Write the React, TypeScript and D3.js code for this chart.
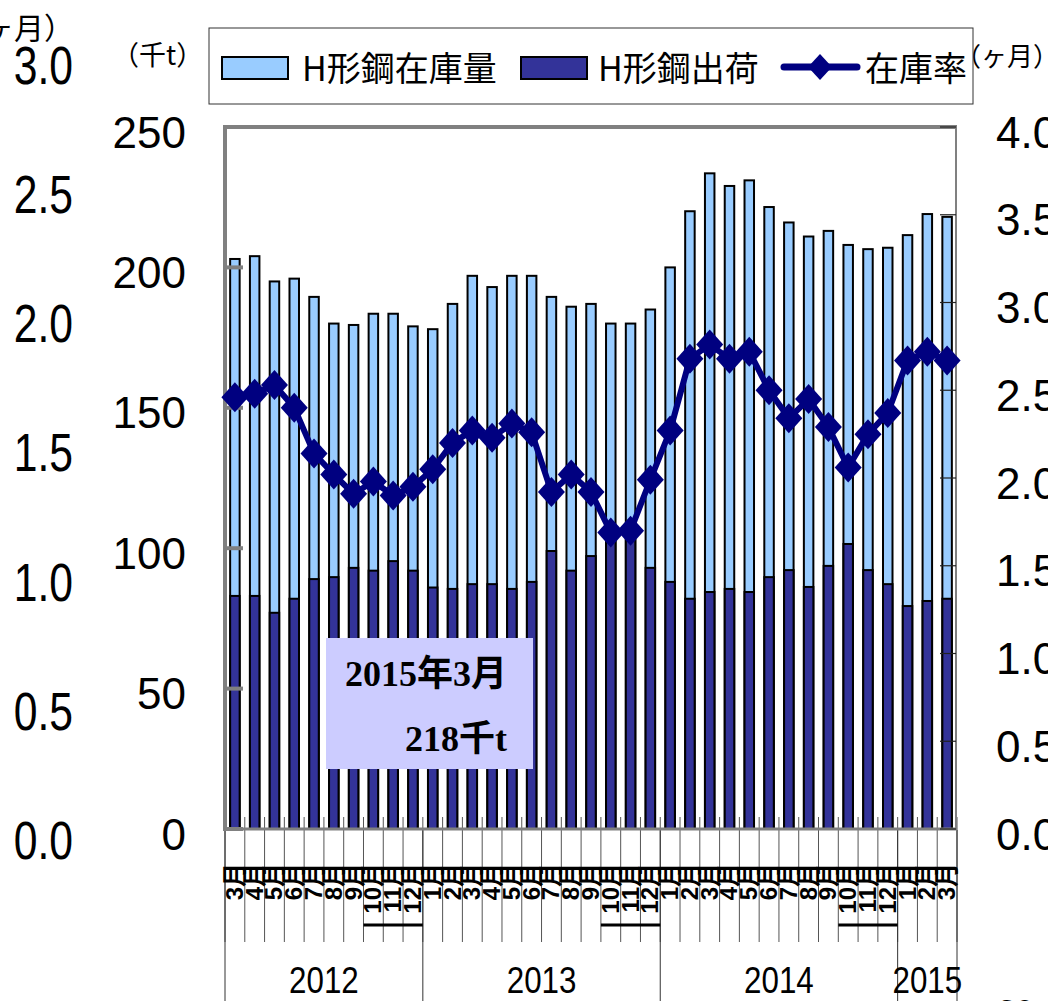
import React from 'react';
import * as d3 from 'd3';

const monthLabels = ['3','4','5','6','7','8','9','10','11','12','1','2','3','4','5','6','7','8','9','10','11','12','1','2','3','4','5','6','7','8','9','10','11','12','1','2','3'];
const yearLabels = ['2012', '2013', '2014', '2015'];
const yearMonthCounts = [10, 12, 12, 3];
const inventory = [203, 204, 195, 196, 189.5, 180, 179.5, 183.5, 183.5, 179, 178, 187, 197, 193, 197, 197, 189.5, 186, 187, 180, 180, 185, 200, 220, 233.5, 229, 231, 221.5, 216, 211, 213, 208, 206.5, 207, 211.5, 219, 218];
const shipments = [83, 83, 77, 82, 89, 89.7, 93, 92, 95.4, 92, 86, 85.5, 87.2, 87.2, 85.5, 88, 99, 92, 97.2, 106.5, 106, 93, 88, 82, 84.4, 85.5, 84.4, 89.7, 92.2, 86.2, 93.7, 101.5, 92.2, 87.2, 79.4, 81.2, 82];
const ratio = [2.46, 2.48, 2.53, 2.40, 2.14, 2.02, 1.91, 1.98, 1.90, 1.95, 2.05, 2.20, 2.27, 2.23, 2.31, 2.26, 1.92, 2.02, 1.92, 1.69, 1.70, 1.99, 2.27, 2.68, 2.76, 2.68, 2.72, 2.50, 2.34, 2.45, 2.29, 2.06, 2.25, 2.37, 2.67, 2.72, 2.67];
const leftTicks = [0, 50, 100, 150, 200, 250];
const rightTicks = [0, 0.5, 1, 1.5, 2, 2.5, 3, 3.5, 4];
const outerTicks = [0, 0.5, 1, 1.5, 2, 2.5, 3];
const legendLabels = ['H形鋼在庫量', 'H形鋼出荷', '在庫率'];
const noteLines = ['2015年3月', '218千t'];

const SANS = "'Liberation Sans', Arial, sans-serif";
const MIX = "'Liberation Sans', 'Noto Sans CJK JP', sans-serif";
const JP = "'Noto Sans CJK JP', sans-serif";
const SERIF = "'Liberation Serif', 'Noto Sans CJK JP', serif";

const LIGHT = '#99CCFF';
const DARK = '#333399';
const NAVY = '#000080';
const GRAY = '#808080';

export default function App() {
  const W = 1048, H = 1001;
  const idx = d3.range(monthLabels.length);
  const x = d3.scaleBand<number>().domain(idx).range([225, 957]);
  const bw = x.bandwidth();
  const cx = (i: number) => (x(i) as number) + bw / 2;
  const yL = d3.scaleLinear().domain([0, 250]).range([829, 127]);
  const yR = d3.scaleLinear().domain([0, 4]).range([829, 127]);
  const yO = d3.scaleLinear().domain([0, 3]).range([840, 65]);
  const boundary = (k: number) => 225 + k * x.step();
  const barW = 9.5;

  const linePath = d3.line<number>().x((_, i) => cx(i)).y(d => yR(d))(ratio) || '';
  const diamond = (px: number, py: number, hw: number, hh: number) =>
    `M${px},${py - hh}L${px + hw},${py}L${px},${py + hh}L${px - hw},${py}Z`;

  const yearStarts: number[] = [];
  let acc = 0;
  yearMonthCounts.forEach(c => { yearStarts.push(acc); acc += c; });

  return (
    <svg width={W} height={H} style={{ position: 'absolute', left: 0, top: 0, background: '#fff' }}>
      <rect x={0} y={0} width={W} height={H} fill="#fff" />

      {/* category tick lines below the axis */}
      {d3.range(monthLabels.length + 1).map(k => (
        <line key={'mt' + k} x1={boundary(k)} x2={boundary(k)} y1={817} y2={942} stroke="#555" strokeWidth={1} />
      ))}
      {yearStarts.concat([monthLabels.length]).map((k, j) => (
        <line key={'yt' + j} x1={boundary(k)} x2={boundary(k)} y1={830} y2={H} stroke="#333" strokeWidth={1} />
      ))}
      {yearStarts.map((s, j) => j < 3 ? (
        <line key={'hs' + j} x1={boundary(s + yearMonthCounts[j] - 3)} x2={boundary(s + yearMonthCounts[j])} y1={925} y2={925} stroke="#000" strokeWidth={3} />
      ) : null)}

      {/* bars */}
      {inventory.map((v, i) => (
        <rect key={'inv' + i} x={cx(i) - barW / 2} y={yL(v)} width={barW} height={yL(0) - yL(v)} fill={LIGHT} stroke="#000" strokeWidth={2} />
      ))}
      {shipments.map((v, i) => (
        <rect key={'shp' + i} x={cx(i) - barW / 2} y={yL(v)} width={barW} height={yL(0) - yL(v)} fill={DARK} stroke="#000" strokeWidth={2} />
      ))}

      {/* frame */}
      <line x1={223} x2={955} y1={127} y2={127} stroke={GRAY} strokeWidth={4} />
      <line x1={225} x2={225} y1={125} y2={831} stroke={GRAY} strokeWidth={4} />
      <line x1={223} x2={957} y1={829} y2={829} stroke={GRAY} strokeWidth={3} />
      <line x1={956} x2={956} y1={125} y2={830} stroke={GRAY} strokeWidth={2} />
      {leftTicks.map(t => (
        <line key={'lt' + t} x1={225} x2={243} y1={yL(t)} y2={yL(t)} stroke={GRAY} strokeWidth={4} />
      ))}
      {rightTicks.map(t => (
        <line key={'rt' + t} x1={940} x2={956} y1={yR(t)} y2={yR(t)} stroke="#222" strokeWidth={1.2} />
      ))}

      {/* ratio line */}
      <path d={linePath} fill="none" stroke={NAVY} strokeWidth={6} strokeLinejoin="round" />
      {ratio.map((v, i) => (
        <path key={'mk' + i} d={diamond(cx(i), yR(v), 13.5, 15)} fill={NAVY} />
      ))}

      {/* annotation */}
      <rect x={326} y={638} width={207} height={131} fill="#CCCCFF" />
      <text x={507} y={686} textAnchor="end" fontFamily={SERIF} fontWeight="bold" fontSize={36} fill="#000">{noteLines[0]}</text>
      <text x={507} y={751} textAnchor="end" fontFamily={SERIF} fontWeight="bold" fontSize={36} fill="#000">{noteLines[1]}</text>

      {/* axis labels */}
      {leftTicks.map(t => (
        <text key={'ll' + t} x={186} y={yL(t) + 5} textAnchor="end" dominantBaseline="central" fontFamily={SANS} fontSize={44} fill="#000">{t}</text>
      ))}
      {rightTicks.map(t => (
        <text key={'rl' + t} x={996} y={yR(t) + 5} textAnchor="start" dominantBaseline="central" fontFamily={SANS} fontSize={44} fill="#000">{t.toFixed(1)}</text>
      ))}
      {outerTicks.map(t => (
        <text key={'ol' + t} transform={`translate(73,${yO(t)}) scale(0.79,1)`} textAnchor="end" dominantBaseline="central" fontFamily={SANS} fontSize={54} fill="#000">{t.toFixed(1)}</text>
      ))}
      <text x={74} y={39} textAnchor="end" fontFamily={JP} fontSize={30} fill="#000">（ヶ月）</text>
      <text x={112} y={65} fontFamily={JP} fontSize={27} fill="#000">（千t）</text>
      <text x={955} y={66} fontFamily={JP} fontSize={26} fill="#000">（ヶ月）</text>

      {/* month labels */}
      {monthLabels.map((m, i) => (
        <text key={'ml' + i} transform={`translate(${cx(i) + 8},863) rotate(-90)`} textAnchor="end" fontFamily={MIX} fontSize={24} fontWeight="bold" fill="#000">{m + '月'}</text>
      ))}
      {yearLabels.map((yl, j) => (
        <text key={'yl' + j} transform={`translate(${(boundary(yearStarts[j]) + boundary(yearStarts[j] + yearMonthCounts[j])) / 2},993) scale(0.87,1)`} textAnchor="middle" fontFamily={SANS} fontSize={36} fill="#000">{yl}</text>
      ))}

      {/* legend */}
      <rect x={209} y={28} width={764} height={76} fill="#fff" stroke="#333" strokeWidth={1} />
      <rect x={222} y={57} width={66} height={22} fill={LIGHT} stroke="#000" strokeWidth={2} />
      <text x={302} y={81} fontFamily={JP} fontSize={34} fill="#000">{legendLabels[0]}</text>
      <rect x={521} y={57} width={66} height={22} fill={DARK} stroke="#000" strokeWidth={2} />
      <text x={598} y={81} fontFamily={JP} fontSize={34} fill="#000">{legendLabels[1]}</text>
      <line x1={784} x2={857} y1={67} y2={67} stroke={NAVY} strokeWidth={7} strokeLinecap="round" />
      <path d={diamond(820, 67, 12, 13)} fill={NAVY} />
      <text x={865} y={81} fontFamily={JP} fontSize={34} fill="#000">{legendLabels[2]}</text>

      <text x={998} y={1022} fontFamily={SANS} fontSize={32} fill="#000">30</text>
    </svg>
  );
}
